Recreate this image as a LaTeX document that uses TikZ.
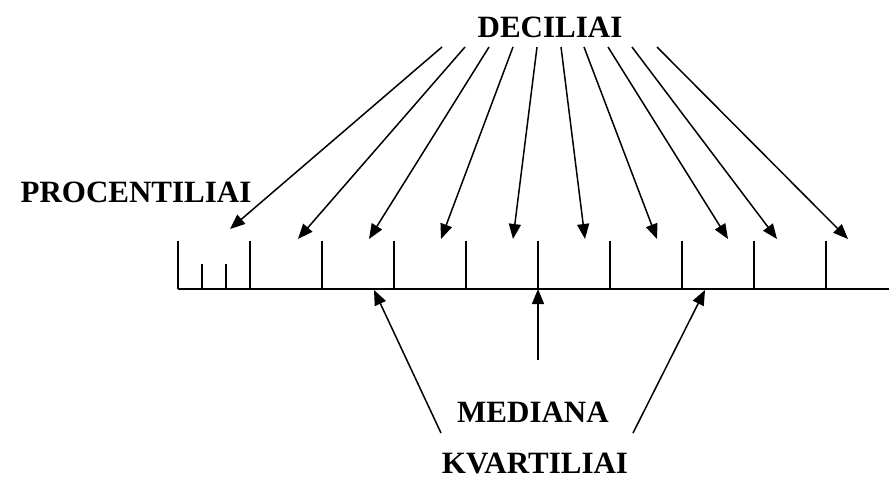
\documentclass[tikz,border=0pt]{standalone}
\usepackage{fontspec}
\setmainfont{Liberation Serif}
\usetikzlibrary{arrows.meta}
\begin{document}
\begin{tikzpicture}[x=1pt,y=-1pt,
  lbl/.style={inner sep=0pt,font=\fontsize{31}{36}\selectfont\bfseries},
  axis/.style={line width=1.5pt},
  arr/.style={line width=1.5pt,-{Triangle[length=15pt,width=12pt]}}]
\useasboundingbox (0,0) rectangle (890,479);
% labels
\node[lbl] (dec) at (550,27) {DECILIAI};
\node[lbl] (proc) at (136,192) {PROCENTILIAI};
\node[lbl] (med) at (533,412) {MEDIANA};
\node[lbl,anchor=base,text depth=0pt] (kv) at (535,473) {KVARTILIAI};
% axis
\coordinate (a0) at (178,289);
\coordinate (a1) at (889,289);
\draw[axis] (a0) -- (a1);
\foreach \x in {178,250,322,394,466,538,610,682,754,826}{
  \draw[axis] (\x,289) -- (\x,241);
}
\foreach \x in {202,226}{
  \draw[axis] (\x,289) -- (\x,264);
}
% decile arrows
\foreach \i/\sx/\tx/\ty in {1/442/230/229,2/465/298/239,3/489/369/239,4/513/441/239,5/537/513/239,6/561/585/239,7/584/657/239,8/608/728/239,9/632/777/239,10/657/848/239}{
  \coordinate (ds\i) at (\sx,47);
  \coordinate (dt\i) at (\tx,\ty);
  \draw[arr] (ds\i) -- (dt\i);
}
% median arrow
\coordinate (ms) at (538,360);
\coordinate (mt) at (538,289);
\draw[arr] (ms) -- (mt);
% quartile arrows
\coordinate (ql) at (441,433);
\coordinate (qlt) at (374,290);
\coordinate (qr) at (633,433);
\coordinate (qrt) at (705,290);
\draw[arr] (ql) -- (qlt);
\draw[arr] (qr) -- (qrt);
\end{tikzpicture}
\end{document}
